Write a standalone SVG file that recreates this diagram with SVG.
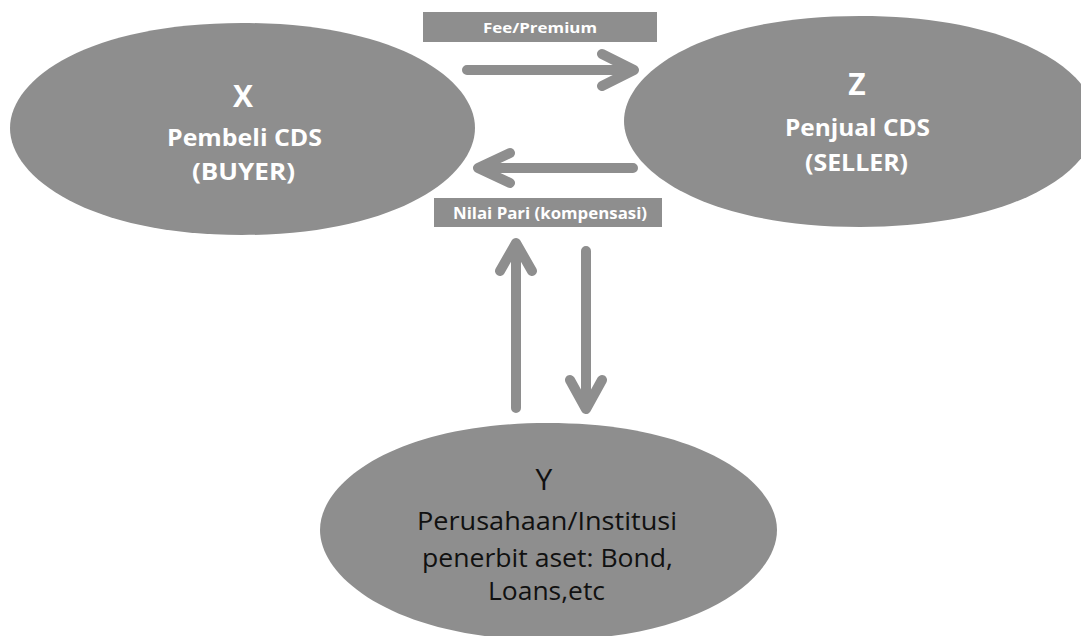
<svg xmlns="http://www.w3.org/2000/svg" width="1081" height="636" viewBox="0 0 1081 636">
<style>
.node{fill:#8e8e8e}
.lab{fill:#8e8e8e}
.wt{fill:#fff;font-family:"Open Sans","Liberation Sans",sans-serif;font-weight:bold;text-anchor:middle}
.bt{fill:#111;font-family:"Open Sans","Liberation Sans",sans-serif;text-anchor:middle}
.ar{fill:none;stroke:#8e8e8e;stroke-width:10;stroke-linecap:round;stroke-linejoin:round}
</style>
<rect width="1081" height="636" fill="#fff"/>
<g id="X">
<path class="node" d="M10 128 C10 78 90 23 242 23 C394 23 475 78 475 128 C475 178 394 235 242 235 C90 235 10 178 10 128 Z"/>
<text class="wt" x="243" y="107" font-size="30">X</text>
<text class="wt" x="244.5" y="146" font-size="23" textLength="155" lengthAdjust="spacingAndGlyphs">Pembeli CDS</text>
<text class="wt" x="243.5" y="180" font-size="23" textLength="103" lengthAdjust="spacingAndGlyphs">(BUYER)</text>
</g>
<g id="Z">
<path class="node" d="M624 121 C624 71 706 16 860 16 C1014 16 1096 71 1096 121 C1096 171 1014 227 860 227 C706 227 624 171 624 121 Z"/>
<text class="wt" x="857" y="95" font-size="30">Z</text>
<text class="wt" x="857.5" y="136" font-size="23" textLength="145" lengthAdjust="spacingAndGlyphs">Penjual CDS</text>
<text class="wt" x="856.5" y="171" font-size="23" textLength="103" lengthAdjust="spacingAndGlyphs">(SELLER)</text>
</g>
<g id="Y">
<path class="node" d="M320 530 C320 480 400 423 548 423 C696 423 777 480 777 530 C777 580 696 640 548 640 C400 640 320 580 320 530 Z"/>
<text class="bt" x="544" y="490" font-size="30">Y</text>
<text class="bt" x="547" y="530" font-size="25" textLength="260" lengthAdjust="spacingAndGlyphs">Perusahaan/Institusi</text>
<text class="bt" x="547.5" y="567" font-size="25" textLength="251" lengthAdjust="spacingAndGlyphs">penerbit aset: Bond,</text>
<text class="bt" x="546.5" y="600" font-size="25" textLength="117" lengthAdjust="spacingAndGlyphs">Loans,etc</text>
</g>
<g id="labels">
<rect class="lab" x="423" y="12" width="234" height="30"/>
<text class="wt" x="540" y="33" font-size="15" textLength="114" lengthAdjust="spacingAndGlyphs">Fee/Premium</text>
<rect class="lab" x="434" y="198" width="228" height="29"/>
<text class="wt" x="550" y="219" font-size="16" textLength="194" lengthAdjust="spacingAndGlyphs">Nilai Pari (kompensasi)</text>
</g>
<g id="connectors">
<path class="ar" d="M467 70 H632 M602 54 L634 70 L602 86"/>
<path class="ar" d="M633 168 H480 M510 153 L478 168 L510 183"/>
<path class="ar" d="M516 408 V245 M500 271 L516 243 L532 271"/>
<path class="ar" d="M586 251 V407 M570 380 L586 409 L602 380"/>
</g>
</svg>
